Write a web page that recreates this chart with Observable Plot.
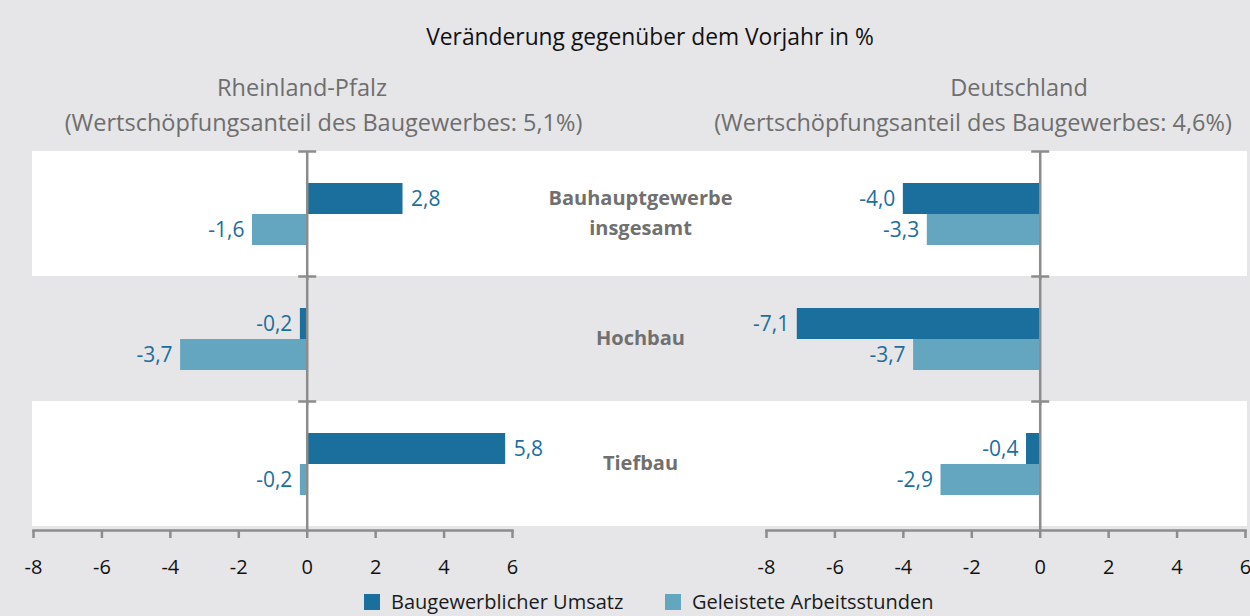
<!DOCTYPE html>
<html>
<head>
<meta charset="utf-8">
<script src="https://cdn.jsdelivr.net/npm/d3@7"></script>
<script src="https://cdn.jsdelivr.net/npm/@observablehq/plot@0.6"></script>
<style>
  html, body { margin: 0; padding: 0; background: #e6e6e8; }
  #wrap { position: relative; width: 1250px; height: 616px; background: #e6e6e8; overflow: hidden; font-family: "Open Sans", "Noto Sans", sans-serif; }
  .t { position: absolute; white-space: nowrap; line-height: 30px; }
  #chart { position: absolute; left: 0; top: 0; }
  .lg { position: absolute; top: 592px; height: 20px; line-height: 20px; display: flex; align-items: center; font-size: 20px; color: #1a1a1a; }
  .sw { width: 16px; height: 16px; margin-right: 11px; display: inline-block; }
</style>
</head>
<body>
<div id="wrap">
  <div class="t" id="title" style="left:0;width:1300px;text-align:center;top:22px;font-size:22.8px;color:#111;">Veränderung gegenüber dem Vorjahr in %</div>
  <div class="t" style="left:0;width:604px;text-align:center;top:72px;font-size:23.5px;color:#6e6e6e;">Rheinland-Pfalz</div>
  <div class="t" style="left:0;width:647px;text-align:center;top:107px;font-size:23.5px;color:#6e6e6e;">(Wertschöpfungsanteil des Baugewerbes: 5,1%)</div>
  <div class="t" style="left:0;width:2038px;text-align:center;top:72px;font-size:23.5px;color:#6e6e6e;">Deutschland</div>
  <div class="t" style="left:0;width:1946px;text-align:center;top:107px;font-size:23.5px;color:#6e6e6e;">(Wertschöpfungsanteil des Baugewerbes: 4,6%)</div>
  <div id="chart"></div>
  <div id="legend"></div>
</div>
<script>
// ---- data ----
const regions = ["Rheinland-Pfalz", "Deutschland"];
const categories = ["Bauhauptgewerbe\ninsgesamt", "Hochbau", "Tiefbau"];
const seriesNames = ["Baugewerblicher Umsatz", "Geleistete Arbeitsstunden"];
const rlpUmsatz = [2.8, -0.2, 5.8];
const rlpStunden = [-1.6, -3.7, -0.2];
const deUmsatz = [-4.0, -7.1, -0.4];
const deStunden = [-3.3, -3.7, -2.9];
const xTicks = [-8, -6, -4, -2, 0, 2, 4, 6];
const whiteCategories = ["Bauhauptgewerbe\ninsgesamt", "Tiefbau"];

const colors = ["#1b6f9d", "#64a6c0"];
const axisGray = "#8c8c8c";

const rows = [];
const bySeries = {
  "Rheinland-Pfalz": [rlpUmsatz, rlpStunden],
  "Deutschland": [deUmsatz, deStunden]
};
for (const r of regions) {
  categories.forEach((c, i) => {
    seriesNames.forEach((s, j) => {
      rows.push({region: r, category: c, series: s, value: bySeries[r][j][i]});
    });
  });
}
const bands = [];
for (const r of regions) for (const c of whiteCategories) bands.push({region: r, category: c});

const fmt = d => d.value.toFixed(1).replace(".", ",");

const capSymbol = {
  draw(context, size) {
    context.moveTo(-9, 0);
    context.lineTo(9, 0);
  }
};

const plot = Plot.plot({
  width: 1250,
  height: 592,
  marginTop: 150,
  marginBottom: 66,
  marginLeft: 33,
  marginRight: 4,
  style: {background: "transparent", fontFamily: "'Open Sans', 'Noto Sans', sans-serif"},
  fx: {domain: regions, paddingInner: 0.3463, paddingOuter: 0, axis: null},
  fy: {domain: categories, padding: 0, axis: null},
  x: {domain: [-8, 6], axis: null, label: null},
  y: {domain: seriesNames, paddingInner: 0, paddingOuter: 0.985, axis: null},
  color: {domain: seriesNames, range: colors},
  marks: [
    Plot.rect(bands.filter(d => d.region === regions[0]), {fx: "region", fy: "category", fill: "white", insetLeft: -1, insetRight: -128}),
    Plot.rect(bands.filter(d => d.region === regions[1]), {fx: "region", fy: "category", fill: "white", insetLeft: -127, insetRight: -2}),
    Plot.barX(rows, {x1: 0, x2: "value", y: "series", fx: "region", fy: "category", fill: "series"}),
    Plot.text(rows.filter(d => d.value >= 0), {x: "value", y: "series", fx: "region", fy: "category", text: fmt, textAnchor: "start", dx: 8, fill: colors[0], fontSize: 21}),
    Plot.text(rows.filter(d => d.value < 0), {x: "value", y: "series", fx: "region", fy: "category", text: fmt, textAnchor: "end", dx: -8, fill: colors[0], fontSize: 21}),
    Plot.ruleX([0], {stroke: axisGray, strokeWidth: 2.5, insetBottom: -4}),
    Plot.dot(categories, {fy: d => d, x: 0, frameAnchor: "top", symbol: capSymbol, r: 5, stroke: axisGray, strokeWidth: 2.5, fill: "none"}),
    Plot.frame({anchor: "bottom", fy: () => categories[2], dy: 4, stroke: axisGray, strokeWidth: 2.5}),
    Plot.axisX(xTicks, {anchor: "bottom", label: null, tickSize: 8, tickPadding: 21, dy: 4, stroke: axisGray, strokeWidth: 2.5, fill: "#111", fontSize: 20, tickFormat: d => String(d)}),
    Plot.text(categories, {fy: d => d, fx: () => regions[1], frameAnchor: "left", dx: -126, dy: -4, text: d => d, textAnchor: "middle", lineHeight: 1.5, fontSize: 20, fontWeight: "bold", fill: "#707070"})
  ]
});
document.getElementById("chart").appendChild(plot);

// legend
const legend = document.getElementById("legend");
const legendPos = [364, 665];
seriesNames.forEach((s, i) => {
  const el = document.createElement("div");
  el.className = "lg";
  el.style.left = legendPos[i] + "px";
  el.innerHTML = `<span class="sw" style="background:${colors[i]}"></span><span>${s}</span>`;
  legend.appendChild(el);
});
</script>
</body>
</html>
